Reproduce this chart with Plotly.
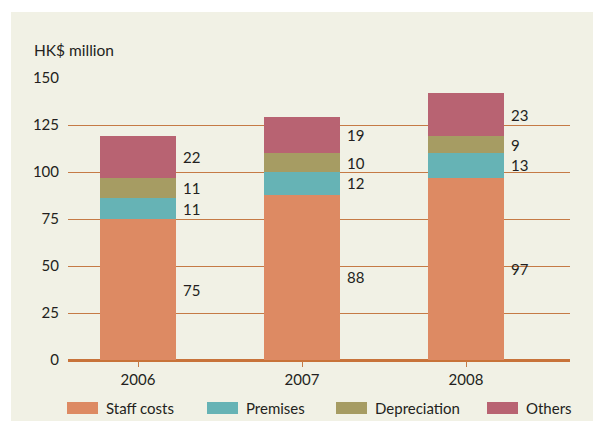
import plotly.graph_objects as go

years = ["2006", "2007", "2008"]
staff_costs = [75, 88, 97]
premises = [11, 12, 13]
depreciation = [11, 10, 9]
others = [22, 19, 23]

series_names = ["Staff costs", "Premises", "Depreciation", "Others"]
series_values = [staff_costs, premises, depreciation, others]
series_colors = ["#DD8A63", "#66B3B5", "#A69C63", "#B86372"]

y_ticks = [0, 25, 50, 75, 100, 125, 150]

# page has an 8px body margin; figure is sized to fill the rest of the 601x421 window
OFF = 8
W, H = 601 - OFF, 421 - OFF
L, R, T, B = 68 - OFF, 31, 78 - OFF, 61
PW, PH = W - L - R, H - T - B
FONT = "Lato"
TXT = "#231F20"
GRID = "#C57A45"
PANEL = "#F1F1E5"


def px_x(px):
    return (px - OFF - L) / PW


def px_y(py):
    return (H - B - (py - OFF)) / PH


fig = go.Figure()
xpos = list(range(len(years)))
bar_w = 0.463
for name, vals, col in zip(series_names, series_values, series_colors):
    fig.add_trace(go.Bar(x=xpos, y=vals, name=name, marker=dict(color=col, line=dict(width=0)),
                         width=bar_w, showlegend=False, hoverinfo="skip"))

annotations = []
# value labels at segment centres, right of bars
for i in range(len(years)):
    base = 0
    for vals in series_values:
        v = vals[i]
        annotations.append(dict(x=xpos[i] + bar_w / 2, y=base + v / 2, xref="x", yref="y",
                                text=str(v), showarrow=False, xanchor="left", yanchor="middle",
                                xshift=5, font=dict(family=FONT, size=15, color=TXT)))
        base += v

# axis unit label
annotations.append(dict(x=px_x(32), y=px_y(50), xref="paper", yref="paper", text="HK$ million",
                        showarrow=False, xanchor="left", yanchor="middle",
                        font=dict(family=FONT, size=15.5, color=TXT)))

shapes = [dict(type="rect", xref="paper", yref="paper", x0=px_x(11), x1=px_x(601 + 5),
               y0=px_y(12), y1=px_y(421 + 5), fillcolor=PANEL, line=dict(width=0), layer="below")]

# custom legend
sw_x = [67, 207, 336, 487]
for name, col, sx in zip(series_names, series_colors, sw_x):
    shapes.append(dict(type="rect", xref="paper", yref="paper", x0=px_x(sx), x1=px_x(sx + 31),
                       y0=px_y(414), y1=px_y(402), fillcolor=col, line=dict(width=0)))
    annotations.append(dict(x=px_x(sx + 37), y=px_y(408), xref="paper", yref="paper", text=name,
                            showarrow=False, xanchor="left", yanchor="middle",
                            font=dict(family=FONT, size=15, color=TXT)))

fig.update_layout(
    width=W, height=H, barmode="stack",
    margin=dict(l=L, r=R, t=T, b=B, pad=0),
    paper_bgcolor="white", plot_bgcolor="rgba(0,0,0,0)",
    font=dict(family=FONT, size=15, color=TXT),
    shapes=shapes, annotations=annotations,
    xaxis=dict(range=[-0.427, 2.634], tickvals=xpos, ticktext=years, showgrid=False,
               ticks="outside", ticklen=6, tickcolor=GRID, tickwidth=1, zeroline=False,
               showline=False, tickfont=dict(family=FONT, size=15, color=TXT), fixedrange=True),
    yaxis=dict(range=[0, 150], tickvals=y_ticks, showgrid=True, gridcolor=GRID, gridwidth=1,
               zeroline=True, zerolinecolor="#C8733A", zerolinewidth=3, showline=False,
               ticks="", ticklabelstandoff=8, tickfont=dict(family=FONT, size=15, color=TXT),
               fixedrange=True),
)

fig.write_html("out.html")
